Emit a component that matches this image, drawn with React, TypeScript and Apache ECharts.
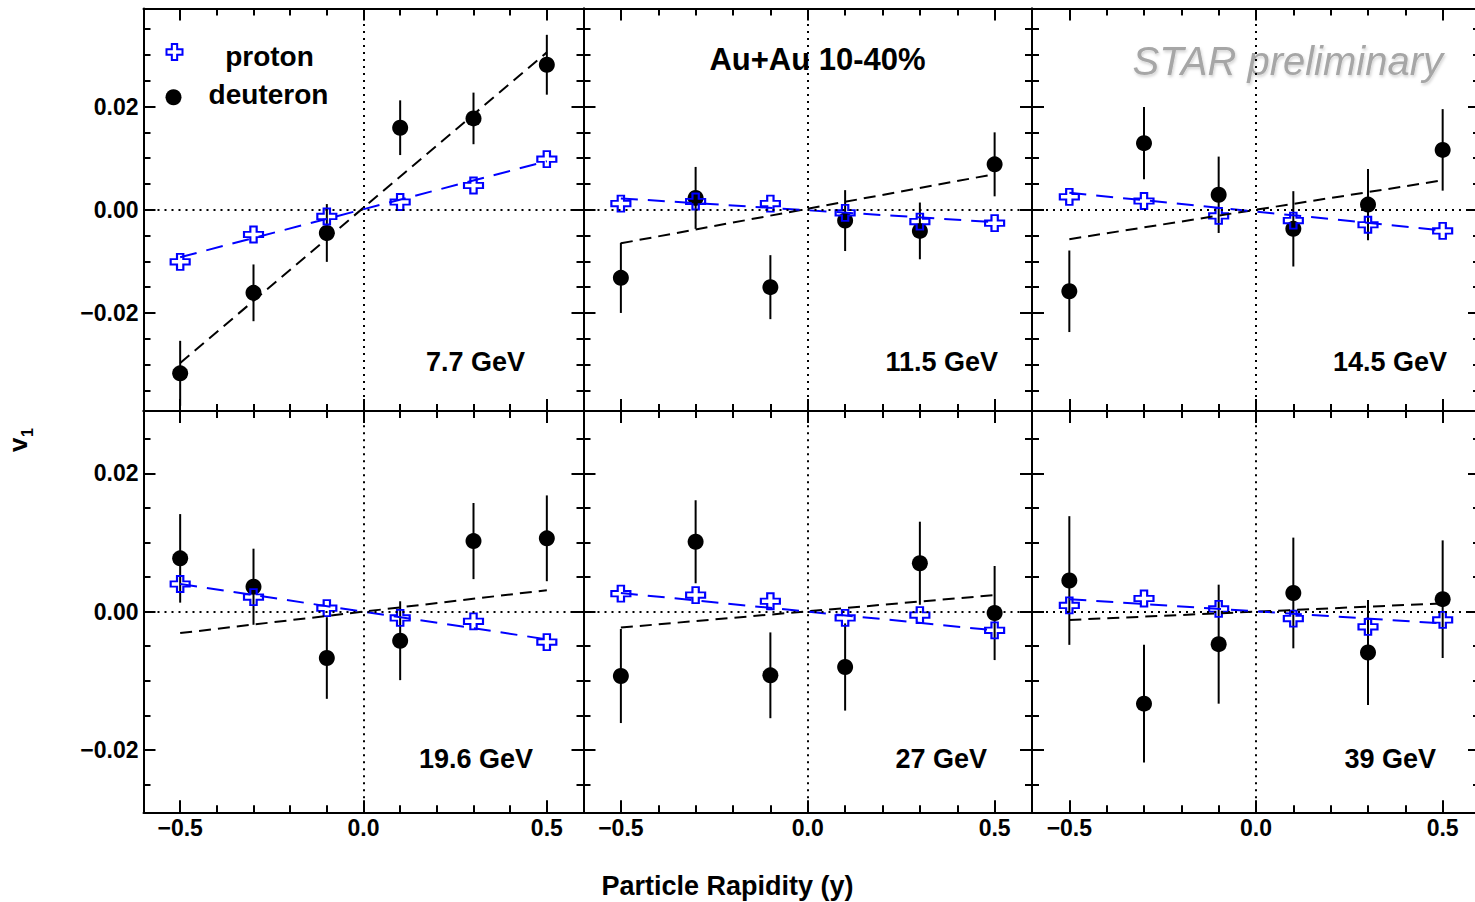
import React, { useEffect, useRef } from "react";
import * as echarts from "echarts";

// ---------------- data ----------------
const rapidity = [-0.5, -0.3, -0.1, 0.1, 0.3, 0.5];
const energies = ["7.7 GeV", "11.5 GeV", "14.5 GeV", "19.6 GeV", "27 GeV", "39 GeV"];

const protonV1 = [
  [-0.0101, -0.0048, -0.0013, 0.0015, 0.0047, 0.0098],
  [0.0012, 0.0016, 0.0012, -0.0006, -0.0023, -0.0026],
  [0.0025, 0.0017, -0.0012, -0.0021, -0.0029, -0.0041],
  [0.004, 0.0021, 0.0005, -0.0009, -0.0014, -0.0044],
  [0.0026, 0.0024, 0.0015, -0.0009, -0.0005, -0.0027],
  [0.0009, 0.0019, 0.0004, -0.001, -0.0022, -0.0012],
];

const deuteronV1 = [
  [-0.0317, -0.0161, -0.0045, 0.0159, 0.0177, 0.0281],
  [-0.0132, 0.0023, -0.015, -0.0021, -0.0041, 0.0088],
  [-0.0158, 0.0129, 0.0029, -0.0037, 0.001, 0.0116],
  [0.0077, 0.0036, -0.0067, -0.0042, 0.0102, 0.0106],
  [-0.0093, 0.0101, -0.0092, -0.008, 0.007, -0.0002],
  [0.0045, -0.0133, -0.0047, 0.0027, -0.0059, 0.0018],
];

const deuteronErr = [
  [0.0063, 0.0055, 0.0056, 0.0053, 0.005, 0.0058],
  [0.0068, 0.006, 0.0062, 0.0059, 0.0055, 0.0062],
  [0.0079, 0.007, 0.0074, 0.0073, 0.0069, 0.0079],
  [0.0064, 0.0055, 0.0059, 0.0057, 0.0055, 0.0062],
  [0.0068, 0.006, 0.0062, 0.0063, 0.006, 0.0068],
  [0.0093, 0.0085, 0.0086, 0.008, 0.0076, 0.0085],
];

// linear fits: value at the two ends of fitRange
const fitRange = [-0.5, 0.5];
const protonFitEnds = [
  [-0.0092, 0.0094],
  [0.0022, -0.0024],
  [0.0033, -0.004],
  [0.004, -0.004],
  [0.0027, -0.0027],
  [0.0018, -0.0017],
];
const deuteronFitEnds = [
  [-0.0297, 0.0305],
  [-0.0065, 0.0069],
  [-0.0057, 0.0057],
  [-0.0031, 0.0031],
  [-0.0023, 0.0024],
  [-0.0012, 0.0012],
];

// axes
const xRange = [-0.6, 0.6];
const xTickLabels = [-0.5, 0, 0.5];
const xMinorTicks = [-0.4, -0.3, -0.2, -0.1, 0.1, 0.2, 0.3, 0.4];
const yRanges = [0.039, 0.029];
const yTickLabels = [-0.02, 0, 0.02];
const yMinorTicksTop = [-0.035, -0.03, -0.025, -0.015, -0.01, -0.005, 0.005, 0.01, 0.015, 0.025, 0.03, 0.035];
const yMinorTicksBottom = [-0.025, -0.015, -0.01, -0.005, 0.005, 0.01, 0.015, 0.025];

const FONT = "'Liberation Sans', Arial, Helvetica, sans-serif";
const BLUE = "#0000ff";
const CROSS = "path://M1,0L2,0L2,1L3,1L3,2L2,2L2,3L1,3L1,2L0,2L0,1L1,1Z";

const fmt = (v: number, d: number) => (v < -1e-9 ? "\u2212" : "") + Math.abs(v).toFixed(d);

export default function App() {
  const ref = useRef<HTMLDivElement>(null);

  useEffect(() => {
    if (!ref.current) return;
    const chart = echarts.init(ref.current, undefined, { renderer: "svg" });

    const gridLefts = [143.5, 583.5, 1032];
    const gridWidths = [440, 448.5, 448];
    const rowTops = [8.5, 411];
    const rowHeights = [402.5, 401.3];

    const grids: any[] = [];
    const xAxes: any[] = [];
    const yAxes: any[] = [];
    const series: any[] = [];
    const graphics: any[] = [];

    const axisLine = { show: true, onZero: false, lineStyle: { color: "#000", width: 2 } };
    const noLine = { show: false, onZero: false };
    const majorTick = (vals: number[]) => ({
      show: true,
      inside: true,
      length: 12,
      lineStyle: { color: "#000", width: 2 },
      customValues: vals,
    });
    const minorTick = (vals: number[]) => ({
      show: true,
      inside: true,
      length: 7,
      lineStyle: { color: "#000", width: 2 },
      customValues: vals,
    });

    for (let i = 0; i < 6; i++) {
      const col = i % 3;
      const row = Math.floor(i / 3);
      grids.push({
        left: gridLefts[col],
        top: rowTops[row],
        width: gridWidths[col],
        height: rowHeights[row],
        containLabel: false,
      });
      const xBase = {
        type: "value",
        gridIndex: i,
        min: xRange[0],
        max: xRange[1],
        splitLine: { show: false },
      };
      xAxes.push({
        ...xBase,
        position: "bottom",
        axisLine,
        axisTick: majorTick(xTickLabels),
        axisLabel: {
          show: row === 1,
          customValues: xTickLabels,
          formatter: (v: number) => fmt(v, 1),
          margin: 4,
          color: "#000",
          fontFamily: FONT,
          fontWeight: "bold",
          fontSize: 23,
        },
      });
      xAxes.push({ ...xBase, position: "bottom", axisLine: noLine, axisTick: minorTick(xMinorTicks), axisLabel: { show: false } });
      xAxes.push({ ...xBase, position: "top", axisLine, axisTick: majorTick(xTickLabels), axisLabel: { show: false } });
      xAxes.push({ ...xBase, position: "top", axisLine: noLine, axisTick: minorTick(xMinorTicks), axisLabel: { show: false } });

      const yr = yRanges[row];
      const yMinor = row === 0 ? yMinorTicksTop : yMinorTicksBottom;
      const yBase = { type: "value", gridIndex: i, min: -yr, max: yr, splitLine: { show: false } };
      yAxes.push({
        ...yBase,
        position: "left",
        axisLine,
        axisTick: majorTick(yTickLabels),
        axisLabel: {
          show: col === 0,
          customValues: yTickLabels,
          formatter: (v: number) => fmt(v, 2),
          margin: 5,
          color: "#000",
          fontFamily: FONT,
          fontWeight: "bold",
          fontSize: 23,
        },
      });
      yAxes.push({ ...yBase, position: "left", axisLine: noLine, axisTick: minorTick(yMinor), axisLabel: { show: false } });
      yAxes.push({ ...yBase, position: "right", axisLine, axisTick: majorTick(yTickLabels), axisLabel: { show: false } });
      yAxes.push({ ...yBase, position: "right", axisLine: noLine, axisTick: minorTick(yMinor), axisLabel: { show: false } });

      const xi = 4 * i;
      const yi = 4 * i;

      // deuteron fit + zero reference lines
      series.push({
        type: "line",
        name: "deuteron fit " + energies[i],
        xAxisIndex: xi,
        yAxisIndex: yi,
        symbol: "none",
        silent: true,
        data: [
          [fitRange[0], deuteronFitEnds[i][0]],
          [fitRange[1], deuteronFitEnds[i][1]],
        ],
        lineStyle: { color: "#000", width: 2, type: [12, 7] },
        markLine: {
          silent: true,
          symbol: ["none", "none"],
          label: { show: false },
          lineStyle: { color: "#000", width: 2, type: [2, 5] },
          data: [{ yAxis: 0 }, { xAxis: 0 }],
        },
      });
      // proton fit
      series.push({
        type: "line",
        name: "proton fit " + energies[i],
        xAxisIndex: xi,
        yAxisIndex: yi,
        symbol: "none",
        silent: true,
        data: [
          [fitRange[0], protonFitEnds[i][0]],
          [fitRange[1], protonFitEnds[i][1]],
        ],
        lineStyle: { color: BLUE, width: 2, type: [17, 10] },
      });
      // deuteron error bars
      series.push({
        type: "custom",
        name: "deuteron err " + energies[i],
        xAxisIndex: xi,
        yAxisIndex: yi,
        silent: true,
        encode: { x: 0, y: 1 },
        data: rapidity.map((x, k) => [x, deuteronV1[i][k], deuteronErr[i][k]]),
        renderItem: (params: any, api: any) => {
          const x = api.value(0);
          const y = api.value(1);
          const e = api.value(2);
          const p1 = api.coord([x, y + e]);
          const p2 = api.coord([x, y - e]);
          const cs = params.coordSys;
          const y1 = Math.max(cs.y, p1[1]);
          const y2 = Math.min(cs.y + cs.height, p2[1]);
          return {
            type: "line",
            shape: { x1: p1[0], y1, x2: p1[0], y2 },
            style: { stroke: "#000", lineWidth: 2 },
          };
        },
      });
      // deuteron points
      series.push({
        type: "scatter",
        name: "deuteron",
        xAxisIndex: xi,
        yAxisIndex: yi,
        symbol: "circle",
        symbolSize: 16,
        itemStyle: { color: "#000", opacity: 1 },
        data: rapidity.map((x, k) => [x, deuteronV1[i][k]]),
      });
      // proton points
      series.push({
        type: "scatter",
        name: "proton",
        xAxisIndex: xi,
        yAxisIndex: yi,
        symbol: CROSS,
        symbolSize: [19, 16],
        itemStyle: { color: "rgba(0,0,0,0)", borderColor: BLUE, borderWidth: 2, opacity: 1 },
        data: rapidity.map((x, k) => [x, protonV1[i][k]]),
      });
    }

    // energy labels
    const labelRight = [525, 998, 1447, 533, 987, 1436];
    const labelMid = [361.6, 361.6, 361.6, 758.6, 758.6, 758.6];
    energies.forEach((e, i) => {
      graphics.push({
        type: "text",
        x: labelRight[i],
        y: labelMid[i],
        style: {
          text: e,
          align: "right",
          verticalAlign: "middle",
          fill: "#000",
          font: `bold 27px ${FONT}`,
        },
      });
    });
    graphics.push({
      type: "text",
      x: 817.5,
      y: 59.6,
      style: { text: "Au+Au 10-40%", align: "center", verticalAlign: "middle", fill: "#000", font: `bold 31px ${FONT}` },
    });
    graphics.push({
      type: "text",
      x: 1443,
      y: 61,
      style: {
        text: "STAR preliminary",
        align: "right",
        verticalAlign: "middle",
        fill: "#a6a6a6",
        font: `italic 40px ${FONT}`,
        textShadowColor: "rgba(0,0,0,0.18)",
        textShadowBlur: 3,
        textShadowOffsetX: 1,
        textShadowOffsetY: 2,
      },
    });
    graphics.push({
      type: "text",
      x: 727.5,
      y: 886,
      style: { text: "Particle Rapidity (y)", align: "center", verticalAlign: "middle", fill: "#000", font: `bold 27px ${FONT}` },
    });
    graphics.push({
      type: "group",
      x: 27,
      y: 452,
      rotation: Math.PI / 2,
      children: [
        {
          type: "text",
          x: 0,
          y: -9,
          style: { text: "v", align: "left", verticalAlign: "middle", fill: "#000", font: `bold 26px ${FONT}` },
        },
        {
          type: "text",
          x: 15,
          y: 0.5,
          style: { text: "1", align: "left", verticalAlign: "middle", fill: "#000", font: `bold 16px ${FONT}` },
        },
      ],
    });

    const legendText = (pad: number[]) => ({
      rich: {
        c: {
          width: 161,
          align: "center",
          fontSize: 28,
          fontWeight: "bold",
          fontFamily: FONT,
          color: "#000",
          lineHeight: 30,
          padding: pad,
        },
      },
    });

    chart.setOption({
      animation: false,
      backgroundColor: "#fff",
      grid: grids,
      xAxis: xAxes,
      yAxis: yAxes,
      series,
      graphic: graphics,
      legend: [
        {
          data: [
            {
              name: "proton",
              icon: CROSS,
              itemStyle: { color: "rgba(0,0,0,0)", borderColor: BLUE, borderWidth: 2, opacity: 1 },
            },
          ],
          left: 165.5,
          top: 34,
          padding: 0,
          itemWidth: 19,
          itemHeight: 16,
          selectedMode: false,
          formatter: "{c|{name}}",
          textStyle: legendText([8, 0, 0, 0]),
        },
        {
          data: [{ name: "deuteron", icon: "circle", itemStyle: { color: "#000", opacity: 1 } }],
          left: 165.5,
          top: 80.3,
          padding: 0,
          itemWidth: 19,
          itemHeight: 16,
          selectedMode: false,
          formatter: "{c|{name}}",
          textStyle: legendText([0, 0, 6, 0]),
        },
      ],
    });

    return () => chart.dispose();
  }, []);

  return (
    <div
      style={{
        position: "absolute",
        left: 0,
        top: 0,
        width: 1475,
        height: 902,
        overflow: "hidden",
        background: "#fff",
      }}
    >
      <div ref={ref} style={{ width: 1490, height: 902 }} />
    </div>
  );
}
